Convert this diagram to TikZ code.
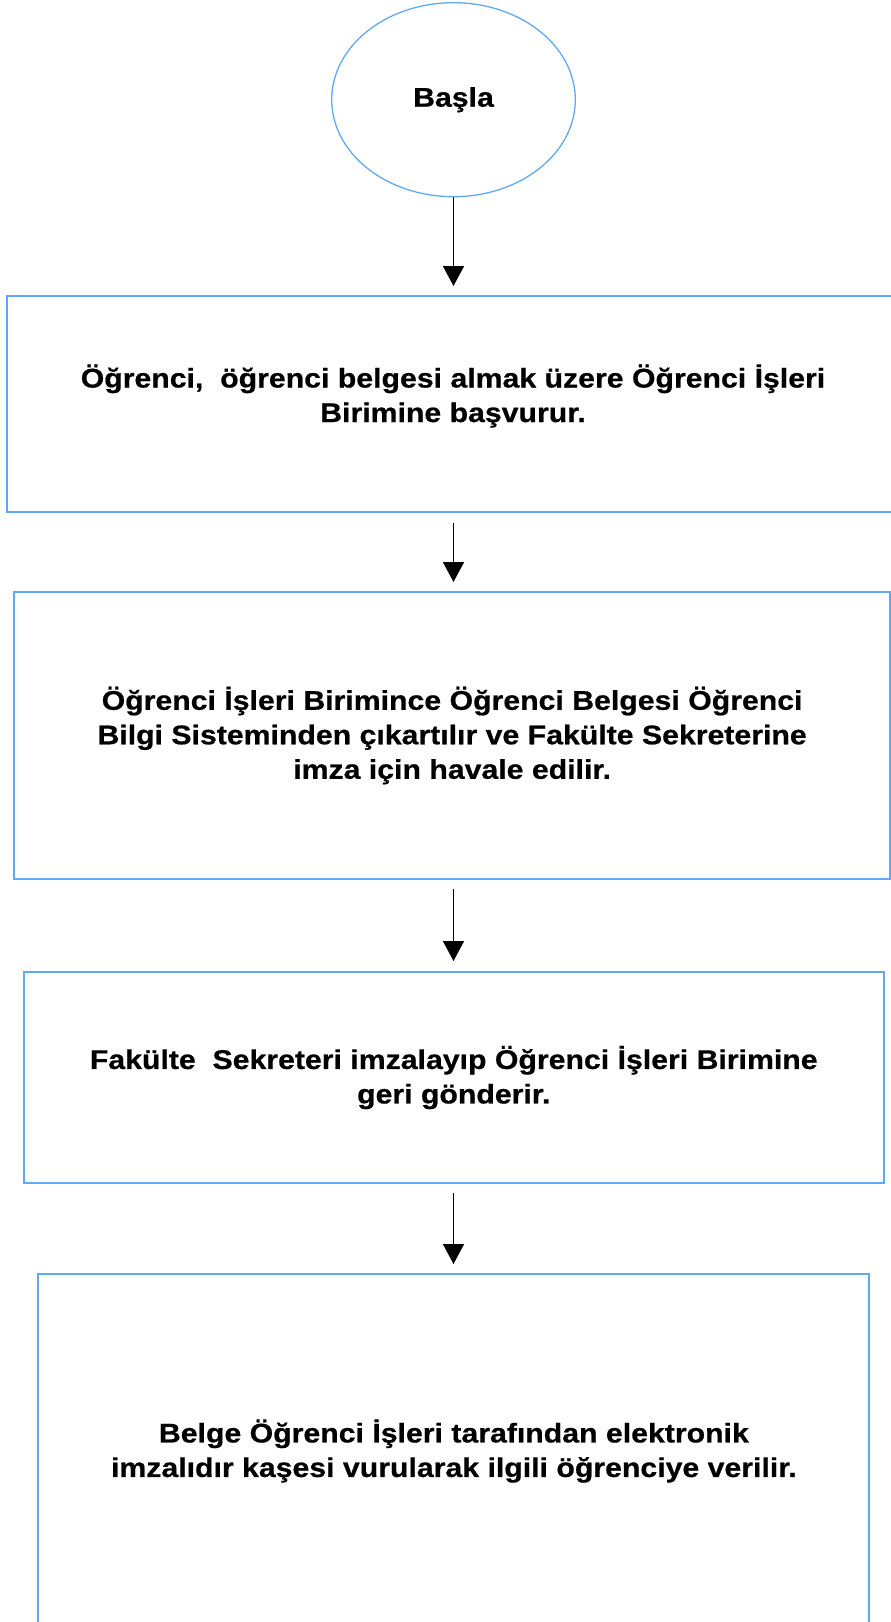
\documentclass[tikz,border=0pt]{standalone}
\usepackage{fontspec}
\setmainfont{Liberation Sans}[FakeStretch=1.12, BoldFeatures={FakeBold=0.6}]
\usetikzlibrary{arrows.meta,shapes.geometric}
\definecolor{boxblue}{RGB}{95,170,240}
\tikzset{
  boxfont/.style={font=\fontsize{27}{34.5}\selectfont\bfseries},
  stepbox/.style={draw=boxblue, line width=2pt, rectangle, inner sep=0pt, align=center, boxfont},
  steptext/.style={inner sep=0pt, align=center, boxfont},
  startshape/.style={draw=boxblue, line width=1.3pt, ellipse, inner sep=0pt, boxfont},
  flow/.style={draw=black, line width=1.5pt, -{Triangle[width=21pt,length=20pt]}}
}
\begin{document}
\begin{tikzpicture}[x=1pt,y=-1pt]
\useasboundingbox[fill=white] (0,0) rectangle (891,1622);
\node[startshape, minimum width=243.6pt, minimum height=194pt] (start) at (453.5,99.7) {Başla};
\node[stepbox, minimum width=892pt, minimum height=215.5pt] (b1) at (453,403.75) {};
\node[steptext] (b1t) at (453,396) {Öğrenci,\ \ öğrenci belgesi almak üzere Öğrenci İşleri\\Birimine başvurur.};
\node[stepbox, minimum width=876pt, minimum height=287pt] (b2) at (452.1,735.5)
  {Öğrenci İşleri Birimince Öğrenci Belgesi Öğrenci\\Bilgi Sisteminden çıkartılır ve Fakülte Sekreterine\\imza için havale edilir.};
\node[stepbox, minimum width=859.5pt, minimum height=211pt] (b3) at (453.75,1077.5)
  {Fakülte\ \ Sekreteri imzalayıp Öğrenci İşleri Birimine\\geri gönderir.};
\node[stepbox, minimum width=831pt, minimum height=354pt] (b4) at (453.9,1451)
  {Belge Öğrenci İşleri tarafından elektronik\\imzalıdır kaşesi vurularak ilgili öğrenciye verilir.};
\draw[flow, shorten >=9pt] (start.south) -- (start.south |- b1.north);
\draw[flow, shorten <=10pt, shorten >=9pt] (start.south |- b1.south) -- (start.south |- b2.north);
\draw[flow, shorten <=9pt, shorten >=10pt] (start.south |- b2.south) -- (start.south |- b3.north);
\draw[flow, shorten <=9pt, shorten >=9pt] (start.south |- b3.south) -- (start.south |- b4.north);
\end{tikzpicture}
\end{document}
